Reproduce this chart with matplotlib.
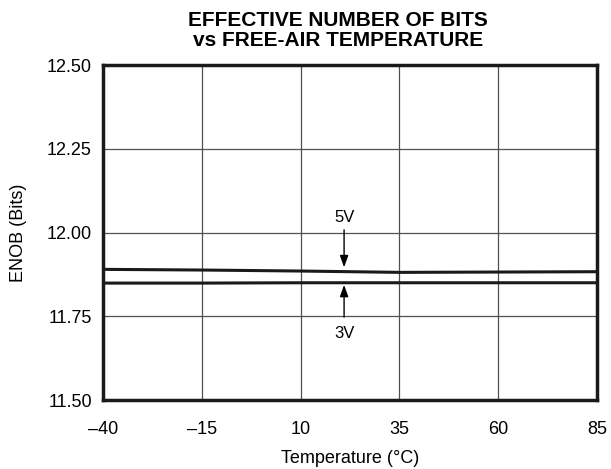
import matplotlib
matplotlib.use("Agg")
import matplotlib.pyplot as plt

plt.rcParams['font.family'] = ['Liberation Sans', 'DejaVu Sans']

temp = [-40, -15, 10, 35, 60, 85]
enob_5v = [11.890, 11.888, 11.885, 11.881, 11.882, 11.883]
enob_3v = [11.849, 11.849, 11.850, 11.850, 11.850, 11.850]
xtick_labels = ['\u201340', '\u201315', '10', '35', '60', '85']
yticks = [11.50, 11.75, 12.00, 12.25, 12.50]

fig = plt.figure(figsize=(6.11, 4.69), dpi=100)
ax = fig.add_axes([0.1686, 0.1471, 0.8085, 0.7143])

ax.plot(temp, enob_5v, color='#1a1a1a', lw=2.2)
ax.plot(temp, enob_3v, color='#1a1a1a', lw=2.2)

ax.set_xlim(-40, 85)
ax.set_ylim(11.5, 12.5)
ax.set_xticks(temp)
ax.set_xticklabels(xtick_labels)
ax.set_yticks(yticks)
ax.set_yticklabels(['%.2f' % v for v in yticks])
ax.tick_params(length=0, labelsize=13)
ax.tick_params(axis='x', pad=15)
ax.tick_params(axis='y', pad=8)
ax.grid(True, color='#505050', lw=0.9)
for s in ax.spines.values():
    s.set_linewidth(2.5)
    s.set_color('#1a1a1a')

# annotations
ax.annotate('', xy=(21, 11.888), xytext=(21, 12.016),
            arrowprops=dict(arrowstyle='-|>,head_length=0.5,head_width=0.18',
                            color='black', lw=1, mutation_scale=14))
ax.text(21, 12.046, '5V', ha='center', va='center', fontsize=12)
ax.annotate('', xy=(21, 11.852), xytext=(21, 11.739),
            arrowprops=dict(arrowstyle='-|>,head_length=0.5,head_width=0.18',
                            color='black', lw=1, mutation_scale=14))
ax.text(21, 11.70, '3V', ha='center', va='center', fontsize=12)

ax.set_xlabel('Temperature (\u00b0C)', fontsize=13, labelpad=9)
ax.set_ylabel('ENOB (Bits)', fontsize=13, labelpad=14)
ax.set_title('EFFECTIVE NUMBER OF BITS\nvs FREE-AIR TEMPERATURE', fontsize=15,
             fontweight='bold', linespacing=1.05, pad=14, x=0.475)

plt.savefig('out.png', dpi=100)
